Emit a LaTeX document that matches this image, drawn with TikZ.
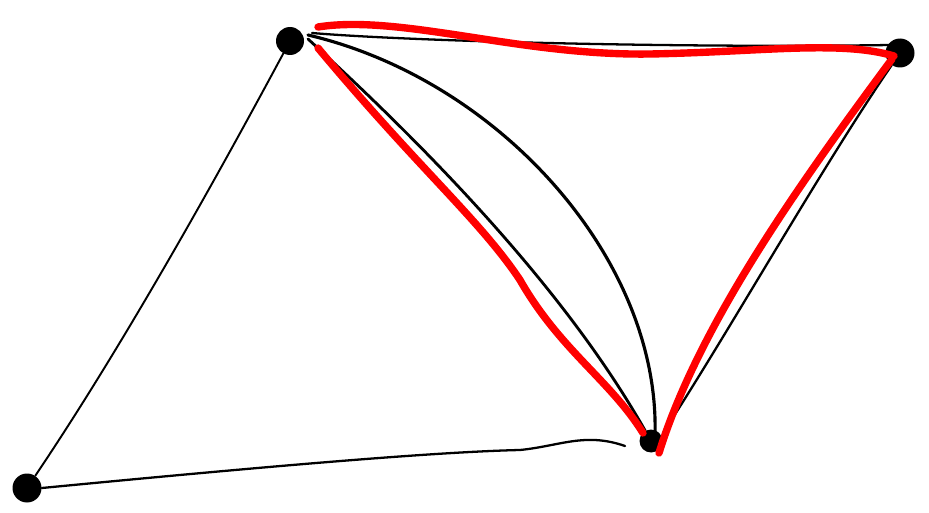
\documentclass[tikz,border=0pt]{standalone}
\usepackage{tikz}
\usetikzlibrary{positioning,calc}

\begin{document}
\begin{tikzpicture}[x=0.02cm, y=-0.02cm, line cap=round, line join=round,
  vertex/.style={circle, fill=black, inner sep=0pt, minimum size=0.5cm},
  edge/.style={draw=black, line width=1.3pt},
  redpath/.style={draw=red, line width=4.2pt}]
  \useasboundingbox (0,0) rectangle (929,513);
  % Vertices
  \node [vertex, minimum size=0.56cm] (nA) at (290,41) {};
  \node [vertex, minimum size=0.58cm] (nB) at (900,53) {};
  \node [vertex, minimum size=0.46cm] (nC) at (651,441) {};
  \node [vertex, minimum size=0.58cm] (nD) at (27,488) {};

  % Black edges
  \draw [edge, line width=1.1pt] (nD) .. controls (120,350) and (210,190) .. (nA);
  \draw [edge] (nD.east) .. controls (250,468) and (430,452) .. (520,450)
    .. controls (560,446) and (585,432) .. (625,446);
  \draw [edge] ($(nA)+(22,-8)$) .. controls (420,42) and (700,48) .. ($(nB)+(-10,-8)$);
  \draw [edge, line width=1.6pt] ($(nA)+(18,-2)$) .. controls (436,156) and (568,294) .. (nC);
  \draw [edge, line width=1.8pt] ($(nA)+(18,-6)$) .. controls (500,80) and (660,260) .. ($(nC)+(4,-6)$);
  \draw [edge] (nB) .. controls (820,170) and (730,330) .. ($(nC)+(12,-8)$);

  % Red cycle
  \draw [redpath] ($(nA)+(28,-14)$) .. controls (400,14) and (520,56) .. (650,54)
    .. controls (760,52) and (840,40) .. ($(nB)+(-6,3)$);
  \draw [redpath] ($(nA)+(28,7)$) .. controls (420,170) and (480,220) .. (520,280)
    .. controls (560,350) and (610,380) .. ($(nC)+(-8,-8)$);
  \draw [redpath] ($(nB)+(-8,6)$) .. controls (810,170) and (700,320) .. ($(nC)+(8,12)$);
\end{tikzpicture}
\end{document}
